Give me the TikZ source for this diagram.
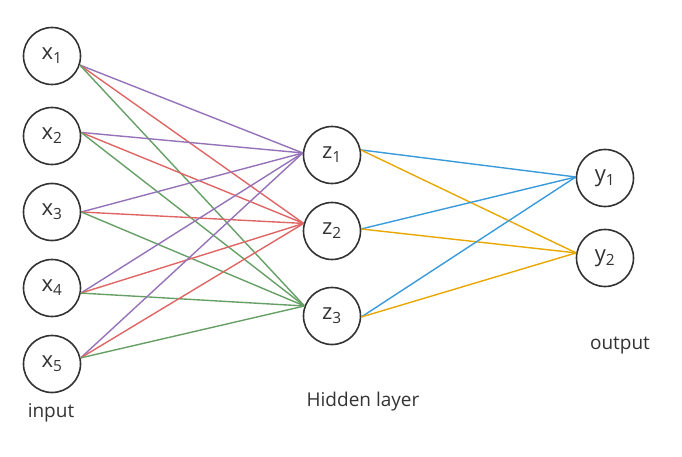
\documentclass[tikz,border=0pt]{standalone}
\usepackage{fontspec}
\setmainfont{Open Sans}
\definecolor{cpur}{HTML}{9673B9}
\definecolor{cred}{HTML}{E06666}
\definecolor{cgrn}{HTML}{67A067}
\definecolor{cblu}{HTML}{3A9BDC}
\definecolor{corg}{HTML}{E8A800}
\definecolor{cink}{HTML}{333333}
\begin{document}
\begin{tikzpicture}[x=1pt,y=-1pt,
  neuron/.style={circle,draw=cink,line width=1.6pt,minimum size=57pt,inner sep=0pt,font=\fontsize{22}{24}\selectfont,text=cink},
  lbl/.style={font=\fontsize{19}{20}\selectfont,text=cink},
  ep/.style={line width=1.4pt},
  ppl/.style={ep,draw=cpur}, rd/.style={ep,draw=cred}, gr/.style={ep,draw=cgrn},
  bl/.style={ep,draw=cblu}, og/.style={ep,draw=corg}]
\useasboundingbox (0,0) rectangle (682,457);
\fill[white] (0,0) rectangle (682,457);
\node[neuron] (x1) at (52,56) {x\textsubscript{1}};
\node[neuron] (x2) at (52,136) {x\textsubscript{2}};
\node[neuron] (x3) at (52,212) {x\textsubscript{3}};
\node[neuron] (x4) at (52,288) {x\textsubscript{4}};
\node[neuron] (x5) at (52,364) {x\textsubscript{5}};
\node[neuron] (z1) at (332,155) {z\textsubscript{1}};
\node[neuron] (z2) at (332,231) {z\textsubscript{2}};
\node[neuron] (z3) at (332,316) {z\textsubscript{3}};
\node[neuron] (y1) at (605,178) {y\textsubscript{1}};
\node[neuron] (y2) at (605,258) {y\textsubscript{2}};
\node[lbl] (lin) at (51,413) {input};
\node[lbl] (lhid) at (363,402) {Hidden layer};
\node[lbl] (lout) at (620,346) {output};
\foreach \n/\a in {x1/-18,x2/7,x3/0,x4/-10,x5/12}{
  \draw[ppl] (\n.\a) -- (z1.176);
  \draw[rd] (\n.\a) -- (z2.165);
  \draw[gr] (\n.\a) -- (z3.160);
}
\foreach \n/\a in {z1/10,z2/4,z3/-2}{
  \draw[bl] (\n.\a) -- (y1.178);
  \draw[og] (\n.\a) -- (y2.170);
}
\end{tikzpicture}
\end{document}
